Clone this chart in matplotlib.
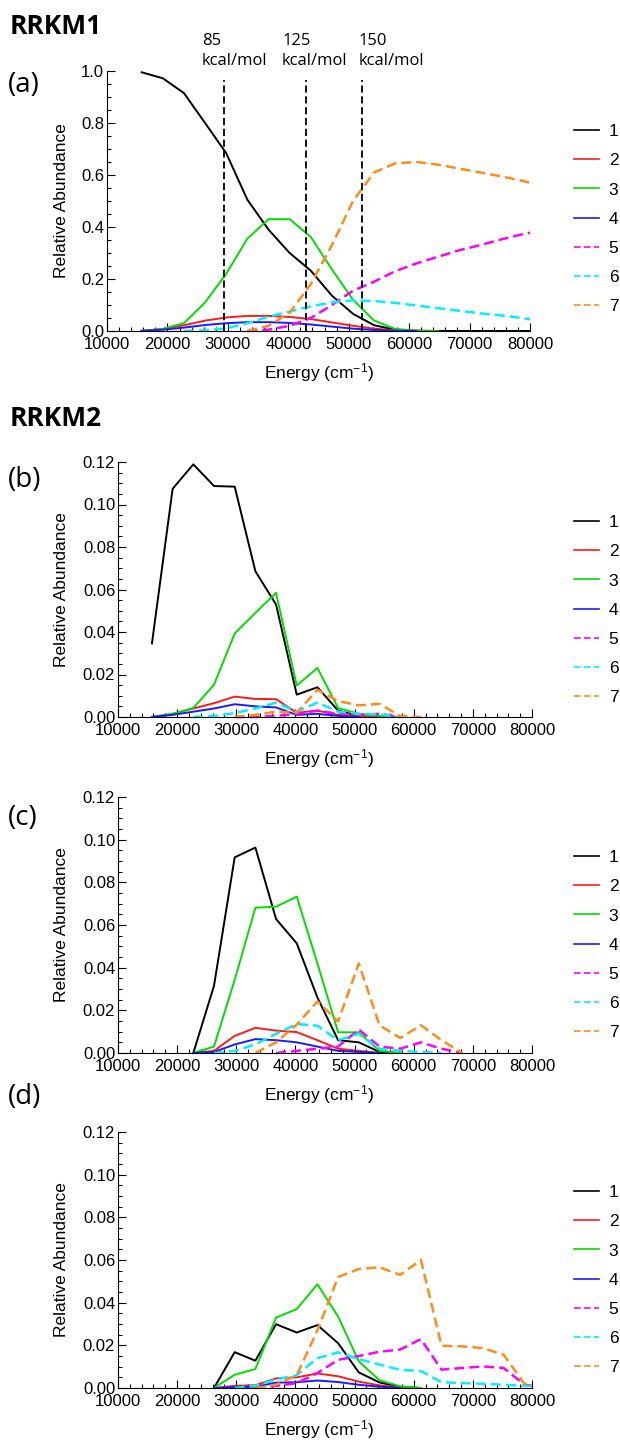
import numpy as np
import matplotlib
matplotlib.use('Agg')
import matplotlib.pyplot as plt
from matplotlib.ticker import MultipleLocator

plt.rcParams['font.family'] = ['Liberation Sans', 'DejaVu Sans']
plt.rcParams['mathtext.fontset'] = 'custom'
plt.rcParams['mathtext.rm'] = 'Liberation Sans'
plt.rcParams['mathtext.it'] = 'Liberation Sans'

nan = np.nan

# energy grid (cm-1), 10 kcal/mol steps from 45 kcal/mol, last point at 80000
energy = [15739, 19237, 22735, 26232, 29730, 33228, 36725, 40223, 43720, 47218,
          50716, 54213, 57711, 61209, 64706, 68204, 71701, 75199, 78697, 80000]

# reference energies shown as dashed lines in panel (a)
ref_kcal = [85, 125, 150]
ref_energy = [29300, 42950, 52150]

species = ['1', '2', '3', '4', '5', '6', '7']
colors = ['black', '#ff1a1a', '#00dd00', '#1a1aff', '#ff00ff', '#00f0ff', '#ff8c1a']
styles = ['-', '-', '-', '-', '--', '--', '--']

# RRKM1 (a)
a1 = [0.995, 0.972, 0.915, 0.80, 0.684, 0.505, 0.39, 0.30, 0.232, 0.136, 0.066, 0.022, 0.005, 0.001, 0, 0, 0, 0, 0, 0]
a2 = [0.001, 0.008, 0.022, 0.040, 0.052, 0.058, 0.058, 0.054, 0.046, 0.033, 0.020, 0.009, 0.003, 0.001, 0, nan, nan, nan, nan, nan]
a3 = [0, 0.008, 0.03, 0.11, 0.22, 0.355, 0.43, 0.43, 0.362, 0.237, 0.12, 0.04, 0.008, 0.001, 0, nan, nan, nan, nan, nan]
a4 = [0.0005, 0.005, 0.013, 0.023, 0.030, 0.034, 0.034, 0.031, 0.025, 0.017, 0.009, 0.004, 0.001, 0, nan, nan, nan, nan, nan, nan]
a5 = [nan, nan, nan, nan, nan, 0, 0.005, 0.02, 0.05, 0.10, 0.155, 0.19, 0.23, 0.26, 0.285, 0.31, 0.33, 0.352, 0.372, 0.378]
a6 = [nan, nan, 0, 0.003, 0.01, 0.03, 0.055, 0.075, 0.095, 0.11, 0.118, 0.115, 0.108, 0.098, 0.088, 0.078, 0.068, 0.06, 0.05, 0.045]
a7 = [nan, nan, nan, nan, nan, 0, 0.02, 0.07, 0.18, 0.33, 0.50, 0.61, 0.645, 0.65, 0.64, 0.625, 0.61, 0.595, 0.578, 0.57]

# RRKM2 (b)
b1 = [0.0346, 0.1074, 0.1189, 0.1087, 0.1084, 0.0686, 0.0529, 0.0105, 0.014, 0.003, 0.0005, 0, nan, nan, nan, nan, nan, nan, nan, nan]
b2 = [0, 0.0015, 0.004, 0.0065, 0.0096, 0.0085, 0.0084, 0.002, 0.003, 0.001, 0.0005, 0, nan, nan, nan, nan, nan, nan, nan, nan]
b3 = [0, 0.0015, 0.0042, 0.0152, 0.0393, 0.049, 0.0584, 0.0148, 0.0231, 0.0042, 0.0015, 0.0005, 0, nan, nan, nan, nan, nan, nan, nan]
b4 = [0, 0.001, 0.0025, 0.004, 0.006, 0.005, 0.0045, 0.001, 0.0015, 0.0005, 0, nan, nan, nan, nan, nan, nan, nan, nan, nan]
b5 = [nan, nan, nan, nan, 0, 0, 0.0005, 0.0015, 0.003, 0.0015, 0.001, 0.0015, 0, nan, nan, nan, nan, nan, nan, nan]
b6 = [nan, nan, 0, 0.0005, 0.0018, 0.004, 0.0068, 0.0025, 0.0068, 0.0025, 0.0015, 0.0012, 0, nan, nan, nan, nan, nan, nan, nan]
b7 = [nan, nan, nan, nan, 0, 0.001, 0.0025, 0.002, 0.0128, 0.0075, 0.0055, 0.0062, 0.0005, 0, nan, nan, nan, nan, nan, nan]

# RRKM2 (c)
c1 = [nan, nan, 0, 0.0315, 0.0917, 0.0963, 0.0628, 0.0514, 0.026, 0.006, 0.005, 0.0005, 0, nan, nan, nan, nan, nan, nan, nan]
c2 = [nan, nan, 0, 0.001, 0.008, 0.0118, 0.0105, 0.0098, 0.006, 0.002, 0.001, 0, nan, nan, nan, nan, nan, nan, nan, nan]
c3 = [nan, nan, 0, 0.003, 0.0343, 0.0681, 0.0686, 0.0733, 0.042, 0.0097, 0.0097, 0.001, 0, nan, nan, nan, nan, nan, nan, nan]
c4 = [nan, nan, 0, 0.0005, 0.004, 0.0065, 0.006, 0.005, 0.003, 0.001, 0.0005, 0, nan, nan, nan, nan, nan, nan, nan, nan]
c5 = [nan, nan, nan, nan, nan, nan, 0, 0.001, 0.002, 0.003, 0.011, 0.003, 0.002, 0.005, 0.002, 0, nan, nan, nan, nan]
c6 = [nan, nan, nan, 0, 0.001, 0.004, 0.009, 0.0136, 0.0128, 0.006, 0.009, 0.002, 0.001, 0.0005, 0, nan, nan, nan, nan, nan]
c7 = [nan, nan, nan, nan, nan, 0, 0.005, 0.0133, 0.0242, 0.0148, 0.042, 0.013, 0.007, 0.013, 0.006, 0, nan, nan, nan, nan]

# RRKM2 (d)
d1 = [nan, nan, nan, 0, 0.0168, 0.0128, 0.0299, 0.026, 0.0295, 0.021, 0.0073, 0.0026, 0.0005, 0, nan, nan, nan, nan, nan, nan]
d2 = [nan, nan, nan, 0, 0.001, 0.0013, 0.0045, 0.005, 0.0068, 0.0055, 0.003, 0.0012, 0.0003, 0, nan, nan, nan, nan, nan, nan]
d3 = [nan, nan, nan, 0, 0.0062, 0.0089, 0.033, 0.037, 0.0486, 0.0335, 0.0125, 0.0036, 0.0008, 0, nan, nan, nan, nan, nan, nan]
d4 = [nan, nan, nan, 0, 0.0004, 0.0006, 0.0025, 0.0027, 0.0035, 0.0028, 0.0015, 0.0006, 0, nan, nan, nan, nan, nan, nan, nan]
d5 = [nan, nan, nan, nan, nan, 0, 0.001, 0.0023, 0.007, 0.0132, 0.015, 0.017, 0.018, 0.0229, 0.0086, 0.0094, 0.0101, 0.0094, 0.0016, 0.001]
d6 = [nan, nan, nan, nan, 0, 0.001, 0.004, 0.006, 0.014, 0.0167, 0.0135, 0.011, 0.0085, 0.008, 0.0027, 0.0023, 0.002, 0.0015, 0.001, 0.001]
d7 = [nan, nan, nan, nan, nan, 0, 0.0015, 0.006, 0.027, 0.052, 0.0558, 0.0566, 0.053, 0.060, 0.0198, 0.0195, 0.0187, 0.0156, 0.002, 0.001]

panels = [
    ('(a)', [a1, a2, a3, a4, a5, a6, a7], 1.0, 0.2, 0.05, '%.1f', (107, 530, 71, 331)),
    ('(b)', [b1, b2, b3, b4, b5, b6, b7], 0.12, 0.02, 0.005, '%.2f', (118, 532, 462, 717)),
    ('(c)', [c1, c2, c3, c4, c5, c6, c7], 0.12, 0.02, 0.005, '%.2f', (118, 532, 797, 1053)),
    ('(d)', [d1, d2, d3, d4, d5, d6, d7], 0.12, 0.02, 0.005, '%.2f', (118, 532, 1132, 1388)),
]
label_y = [85, 480, 818, 1097]
annot_dx = [-22, -24, -3]   # label offset (px) from its dashed line

W, H = 620, 1440
fig = plt.figure(figsize=(W / 100, H / 100), dpi=100)

for k, (tag, series, ymax, major, minor, fmt, box) in enumerate(panels):
    l, r, t, b = box
    ax = fig.add_axes([l / W, 1 - b / H, (r - l) / W, (b - t) / H])
    for s, name, c, ls in zip(series, species, colors, styles):
        if ls == '--':
            ax.plot(energy, s, color=c, lw=1.8, ls='--', dashes=(4, 2), label=name, clip_on=False)
        else:
            ax.plot(energy, s, color=c, lw=1.4, label=name, clip_on=False)
    ax.set_xlim(10000, 80000)
    ax.set_ylim(0, ymax)
    ax.xaxis.set_major_locator(MultipleLocator(10000))
    ax.xaxis.set_minor_locator(MultipleLocator(2000))
    ax.yaxis.set_major_locator(MultipleLocator(major))
    ax.yaxis.set_minor_locator(MultipleLocator(minor))
    ax.yaxis.set_major_formatter(plt.FormatStrFormatter(fmt))
    ax.spines['top'].set_visible(False)
    ax.spines['right'].set_visible(False)
    ax.tick_params(which='both', direction='in', labelsize=12, width=0.8)
    ax.tick_params(axis='x', pad=4)
    ax.tick_params(axis='y', pad=2)
    ax.tick_params(which='major', length=6)
    ax.tick_params(which='minor', length=3)
    if k == 0:
        for kc, xe, dx in zip(ref_kcal, ref_energy, annot_dx):
            ax.axvline(xe, ymax=0.965, color='black', lw=1.3, ls='--', dashes=(4, 2))
            xp = l + (xe - 10000) / 70000 * (r - l) + dx
            fig.text(xp / W, 1 - 51 / H, '%d\nkcal/mol' % kc, fontsize=12,
                     family='Open Sans', ha='left', va='center', linespacing=1.3)
    leg = ax.legend(loc='center left', bbox_to_anchor=(574 / W, 1 - (t + 148) / H),
                    bbox_transform=fig.transFigure, frameon=False, fontsize=12.5,
                    handlelength=1.45, handletextpad=0.55, labelspacing=0.8,
                    borderpad=0, borderaxespad=0)
    for line in leg.get_lines():
        line.set_linewidth(1.2)
    fig.text(8 / W, 1 - label_y[k] / H, tag, fontsize=20, family='Open Sans', va='center')
    fig.text(62 / W, 1 - (t + b) / 2 / H, 'Relative Abundance', rotation=90,
             fontsize=12.5, ha='center', va='center')
    fig.text(319 / W, 1 - (b + 42) / H, 'Energy (cm$^{-1}$)', fontsize=12.5,
             ha='center', va='center')

fig.text(10 / W, 1 - 27 / H, 'RRKM1', fontsize=19, family='Open Sans', weight='bold', va='center')
fig.text(10 / W, 1 - 418 / H, 'RRKM2', fontsize=19, family='Open Sans', weight='bold', va='center')

fig.savefig('out.png', dpi=100)
